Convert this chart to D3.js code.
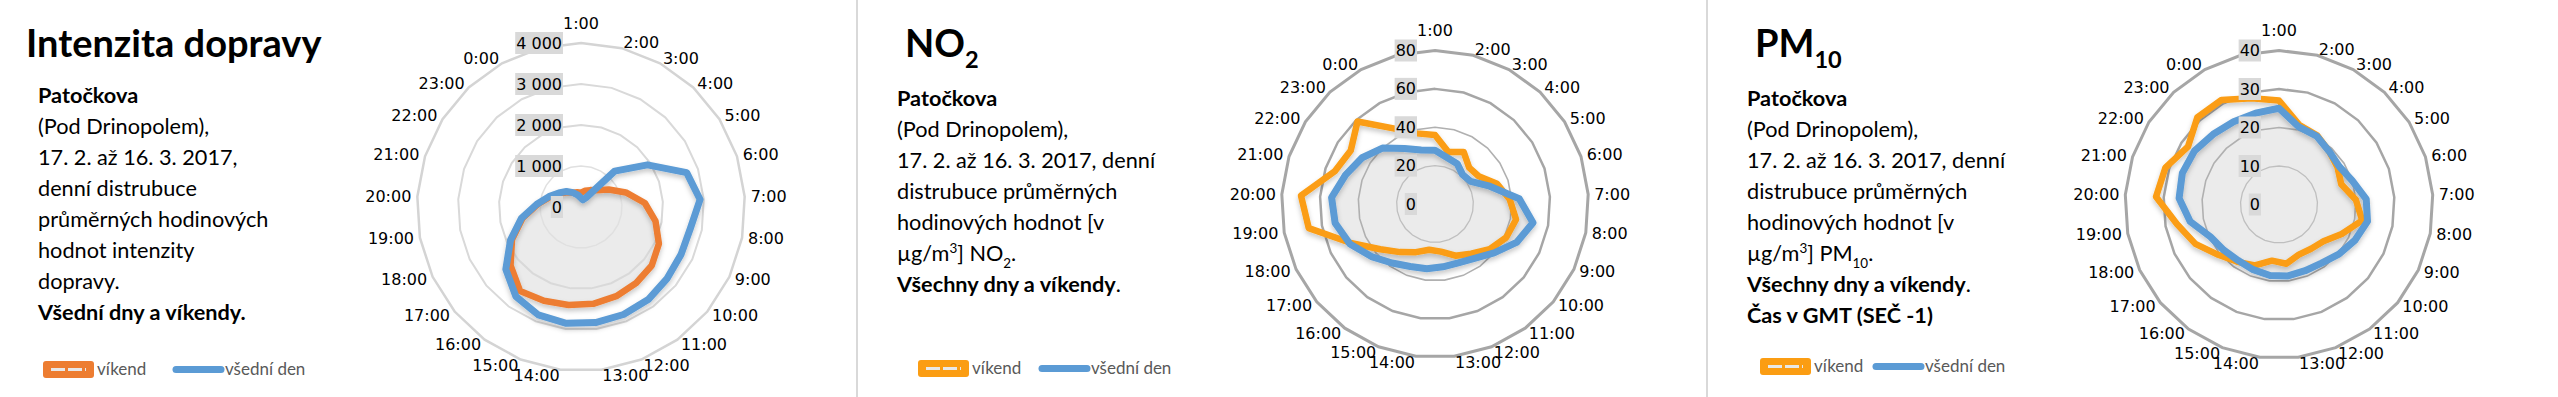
<!DOCTYPE html>
<html>
<head>
<meta charset="utf-8">
<script src="https://cdn.jsdelivr.net/npm/d3@7"></script>
<style>
body { margin: 0; background: #fff; }
svg { display: block; }
text { font-family: Lato, "Open Sans", sans-serif; fill: #000; }
.hour, .val { font-family: "DejaVu Sans", sans-serif; font-size: 16px; }
.leg { font-size: 17px; fill: #595959; }
</style>
</head>
<body>
<svg id="chart" width="2558" height="397"></svg>
<script>
// categories: 25 spokes, the last one has no label
const hours = ["1:00", "2:00", "3:00", "4:00", "5:00", "6:00", "7:00", "8:00", "9:00", "10:00",
               "11:00", "12:00", "13:00", "14:00", "15:00", "16:00", "17:00", "18:00", "19:00",
               "20:00", "21:00", "22:00", "23:00", "0:00", ""];

// traffic intensity (vehicles / h)
const trafficWeekend = [350, 410, 470, 560, 800, 1150, 1560, 1850, 2100, 2240, 2290, 2340, 2380,
                        2410, 2460, 2530, 2230, 1860, 1450, 1060, 790, 610, 490, 400, 370];
const trafficWeekday = [220, 180, 260, 1200, 1920, 2710, 2910, 2720, 2700, 2730, 2790, 2820, 2840,
                        2860, 2830, 2700, 2380, 1900, 1480, 1080, 820, 640, 520, 400, 300];
const trafficTicks = [0, 1000, 2000, 3000, 4000];

// NO2 (µg/m3)
const no2Weekend = [36, 28, 31, 26, 27, 34, 39, 43, 41, 37, 32, 29, 25, 24, 27, 31, 37, 48, 67,
                    70, 55, 52, 59, 45, 38];
const no2Weekday = [28, 25, 24, 21, 22, 30, 44, 52, 47, 40, 35, 33, 33, 34, 35, 38, 43, 49, 53,
                    54, 49, 45, 40, 33, 29];
const no2Ticks = [0, 20, 40, 60, 80];

// PM10 (µg/m3)
const pm10Weekend = [27, 21.3, 20.5, 19, 18, 17, 20, 22, 18, 15, 14.2, 14, 15.5, 14.7, 17, 18.4,
                     20.5, 24, 27, 32, 31, 28, 31, 31, 28.5];
const pm10Weekday = [25, 20.8, 20.3, 19, 18.5, 20, 22.7, 23.4, 21.8, 20.2, 18.8, 18.5, 18.7, 18.6,
                     18.2, 18, 18.6, 19.7, 23.5, 26, 26.4, 26, 25, 24.5, 24.5];
const pm10Ticks = [0, 10, 20, 30, 40];

const blue = "#5B9BD5";

const svg = d3.select("#chart");
const defs = svg.append("defs");
defs.append("filter").attr("id", "soft").attr("x", "-10%").attr("y", "-10%").attr("width", "120%").attr("height", "120%")
    .append("feGaussianBlur").attr("stdDeviation", 2);
defs.append("filter").attr("id", "shadow").attr("x", "-10%").attr("y", "-10%").attr("width", "120%").attr("height", "130%")
    .append("feDropShadow").attr("dx", 0).attr("dy", 3).attr("stdDeviation", 2.5)
    .attr("flood-color", "#000").attr("flood-opacity", 0.22);

const fmt = d3.formatLocale({decimal: ",", thousands: "\u00a0", grouping: [3], currency: ["", ""]}).format(",");

// panel separators
[857, 1707].forEach(x => svg.append("line").attr("x1", x).attr("x2", x).attr("y1", 0).attr("y2", 397)
    .attr("stroke", "#d9d9d9").attr("stroke-width", 2));

function runs(g, x, y, parts, size) {
    let t = g.append("text").attr("x", x).attr("y", y).style("font-size", size + "px");
    let shift = 0;
    parts.forEach(p => {
        let s = t.append("tspan").text(p.t);
        let target = p.sub ? size * 0.3 : p.sup ? -size * 0.36 : 0;
        s.attr("dy", target - shift);
        shift = target;
        if (p.sub || p.sup) s.style("font-size", (size * 0.62) + "px");
        if (p.b) s.style("font-weight", 700);
    });
    return t;
}

function radar(cfg) {
    let n = hours.length;
    let angle = d3.scaleLinear().domain([0, n]).range([0, 2 * Math.PI]);
    let r = d3.scaleLinear().domain([0, d3.max(cfg.ticks)]).range([0, cfg.radius]);
    let line = d3.lineRadial().angle((d, i) => angle(i)).radius(d => r(d)).curve(d3.curveLinearClosed);
    let g = svg.append("g").attr("transform", `translate(${cfg.cx},${cfg.cy})`);

    // light fill under the series
    g.append("path").attr("d", line(cfg.fill)).attr("fill", "#ebebeb").attr("filter", "url(#soft)");

    // rings
    cfg.ticks.slice(1).forEach((t, k) => {
        g.append("path").attr("d", line(hours.map(() => t)))
         .attr("fill", "none").attr("stroke", cfg.ringColor[k]).attr("stroke-width", cfg.ringWidth[k]);
    });

    // series
    let lines = g.append("g").attr("filter", "url(#shadow)");
    lines.append("path").attr("d", line(cfg.weekend)).attr("fill", "none")
         .attr("stroke", cfg.orange).attr("stroke-width", cfg.lineWidth).attr("stroke-linejoin", "round");
    lines.append("path").attr("d", line(cfg.weekday)).attr("fill", "none")
         .attr("stroke", blue).attr("stroke-width", cfg.lineWidth + 0.5).attr("stroke-linejoin", "round");

    // value axis labels
    cfg.ticks.forEach(t => {
        let lab = g.append("g");
        let txt = lab.append("text").attr("class", "val").attr("x", -19).attr("y", -r(t))
                     .attr("text-anchor", "end").attr("dominant-baseline", "central").text(fmt(t));
        let w = txt.node().getComputedTextLength();
        lab.insert("rect", "text").attr("x", -19 - w - 1).attr("y", -r(t) - 11)
           .attr("width", w + 2).attr("height", 22).attr("fill", "#d9d9d9");
    });

    // hour labels
    let K = cfg.radius + 6;
    hours.forEach((h, i) => {
        let a = angle(i), sx = Math.sin(a), cy = -Math.cos(a);
        let x = K * sx, y = K * cy;
        let anchor = "middle";
        if (Math.abs(sx) < 0.01) y -= 14;
        else anchor = sx > 0 ? "start" : "end";
        g.append("text").attr("class", "hour").attr("x", x).attr("y", y)
         .attr("text-anchor", anchor).attr("dominant-baseline", "central").text(h);
    });
}

function panel(p) {
    let g = svg.append("g");
    runs(g, p.titleX, 57, p.title, 38);
    p.lines.forEach((ln, i) => runs(g, p.textX, p.top + i * 31, ln, 21.7));

    // legend
    let lg = g.append("g").attr("transform", `translate(${p.legX},${p.legY})`);
    lg.append("rect").attr("x", 0).attr("y", -8).attr("width", 51).attr("height", 17).attr("rx", 3)
      .attr("fill", p.orange);
    lg.append("line").attr("x1", 8).attr("x2", 43).attr("y1", 0.5).attr("y2", 0.5)
      .attr("stroke", "#e8e8e8").attr("stroke-width", 3).attr("stroke-dasharray", "14 3");
    lg.append("text").attr("class", "leg").attr("x", 54).attr("y", 6).text("víkend");
    lg.append("line").attr("x1", p.legGap + 3).attr("x2", p.legGap + 48).attr("y1", 0.5).attr("y2", 0.5)
      .attr("stroke", blue).attr("stroke-width", 7).attr("stroke-linecap", "round");
    lg.append("text").attr("class", "leg").attr("x", p.legGap + 52).attr("y", 6).text("všední den");
}

const B = t => ({t: t, b: true});
const N = t => ({t: t});
const commonLines = [
    [B("Patočkova")],
    [N("(Pod Drinopolem),")],
    [N("17. 2. až 16. 3. 2017, denní")],
    [N("distrubuce průměrných")],
    [N("hodinových hodnot [v")]
];

panel({
    titleX: 26, title: [B("Intenzita dopravy")], textX: 38, top: 103,
    lines: [[B("Patočkova")], [N("(Pod Drinopolem),")], [N("17. 2. až 16. 3. 2017,")],
            [N("denní distrubuce")], [N("průměrných hodinových")], [N("hodnot intenzity")],
            [N("dopravy.")], [B("Všední dny a víkendy.")]],
    legX: 43, legY: 369, legGap: 130, orange: "#ED7D31"
});
panel({
    titleX: 905, title: [B("NO"), {t: "2", b: true, sub: true}], textX: 897, top: 106,
    lines: commonLines.concat([[N("µg/m"), {t: "3", sup: true}, N("] NO"), {t: "2", sub: true}, N(".")],
                               [B("Všechny dny a víkendy"), N(".")]]),
    legX: 918, legY: 368, legGap: 121, orange: "#FB9D13"
});
panel({
    titleX: 1755, title: [B("PM"), {t: "10", b: true, sub: true}], textX: 1747, top: 106,
    lines: commonLines.concat([[N("µg/m"), {t: "3", sup: true}, N("] PM"), {t: "10", sub: true}, N(".")],
                               [B("Všechny dny a víkendy"), N(".")], [B("Čas v GMT (SEČ -1)")]]),
    legX: 1760, legY: 366, legGap: 113, orange: "#FB9D13"
});

radar({cx: 581, cy: 207, radius: 164, ticks: trafficTicks, weekend: trafficWeekend, weekday: trafficWeekday,
       fill: trafficWeekend, orange: "#ED7D31", lineWidth: 6.5,
       ringColor: ["#e0e0e0", "#d9d9d9", "#d9d9d9", "#d4d4d4"], ringWidth: [1.5, 2, 2, 2.5]});
radar({cx: 1435, cy: 204, radius: 153.5, ticks: no2Ticks, weekend: no2Weekend, weekday: no2Weekday,
       fill: no2Weekday, orange: "#FB9D13", lineWidth: 6.5,
       ringColor: ["#bfbfbf", "#b0b0b0", "#a6a6a6", "#a6a6a6"], ringWidth: [1.3, 1.6, 2.5, 3]});
radar({cx: 2279, cy: 204.5, radius: 154, ticks: pm10Ticks, weekend: pm10Weekend, weekday: pm10Weekday,
       fill: pm10Weekday, orange: "#FB9D13", lineWidth: 6.5,
       ringColor: ["#bfbfbf", "#b0b0b0", "#a6a6a6", "#a6a6a6"], ringWidth: [1.3, 1.6, 2.5, 3]});
</script>
</body>
</html>
